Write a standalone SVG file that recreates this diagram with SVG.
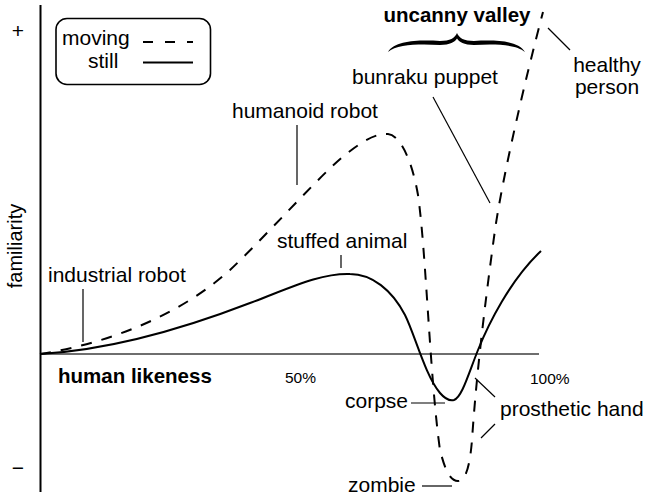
<svg xmlns="http://www.w3.org/2000/svg" width="645" height="496" viewBox="0 0 645 496">
<style>
text{font-family:"Liberation Sans",Arial,Helvetica,sans-serif;fill:#000}
.l{font-size:21px}
.b{font-size:20.5px;font-weight:bold}
.s{font-size:15.5px}
.lead{stroke:#000;stroke-width:1.2;fill:none}
.moving{stroke:#000;stroke-width:2;fill:none;stroke-dasharray:11,10}
.still{stroke:#000;stroke-width:2;fill:none}
</style>
<rect width="645" height="496" fill="#fff"/>
<g id="axes">
<line x1="40" y1="354" x2="539" y2="354" stroke="#6e6e6e" stroke-width="2"/>
<line x1="40.5" y1="5" x2="40.5" y2="492" stroke="#000" stroke-width="2"/>
<text class="l" x="18" y="38" text-anchor="middle">+</text>
<text class="l" x="18" y="475" text-anchor="middle">−</text>
<text x="22" y="246" font-size="20" text-anchor="middle" transform="rotate(-90 22 246)">familiarity</text>
<text class="b" x="58" y="383" font-size="21">human likeness</text>
<text class="s" x="285" y="383">50%</text>
<text class="s" x="530" y="384">100%</text>
</g>
<g id="legend">
<rect x="56" y="18.5" width="154.5" height="66" rx="11" fill="#fff" stroke="#000" stroke-width="1.6"/>
<text class="l" x="62" y="45">moving</text>
<line x1="143" y1="42" x2="193" y2="42" stroke="#000" stroke-width="2" stroke-dasharray="10,12"/>
<text class="l" x="88" y="68">still</text>
<line x1="143" y1="62.5" x2="193" y2="62.5" class="still"/>
</g>
<g id="connectors">
<path id="moving-curve" class="moving" d="M40,354 C110,343 180,315 230,270 C270,232 320,175 345,155 C360,143 375,133 388,134 C400,135 412,160 418,195 C426,250 430,380 440,450 C445,470 450,481 458,481 C466,481 470,465 472,440 C476,380 484,310 495,230 C502,180 525,80 543,12"/>
<path id="still-curve" class="still" d="M40,354 C110,350 180,330 250,303 C290,288 320,273 350,274 C372,274 392,290 405,315 C415,335 425,375 440,393 C446,400 450,401 454,400 C462,397 468,375 478,350 C488,325 510,280 541,251"/>
<line class="lead" x1="297" y1="125" x2="297" y2="185"/>
<line class="lead" x1="83" y1="289" x2="83" y2="342"/>
<line class="lead" x1="341" y1="255" x2="341" y2="268"/>
<line class="lead" x1="433" y1="97" x2="490" y2="203"/>
<line class="lead" x1="548" y1="28" x2="570" y2="50"/>
<line class="lead" x1="411" y1="403" x2="445" y2="403"/>
<line class="lead" x1="475" y1="378" x2="495" y2="397"/>
<line class="lead" x1="495" y1="424" x2="481" y2="438"/>
<line class="lead" x1="422" y1="486" x2="452" y2="486"/>
</g>
<g id="uncanny-valley">
<text class="b" x="457" y="22" font-size="20" text-anchor="middle">uncanny valley</text>
<path d="M388,52 C395,40 420,40 440,41 C450,41 455,38 457,33 C459,38 464,41 474,41 C494,40 518,40 525,52 C516,44 494,44 474,45 C464,45 459,42 457,38.5 C455,42 450,45 440,45 C420,44 397,44 388,52 Z" fill="#000"/>
</g>
<g id="industrial-robot"><text class="l" x="48" y="282">industrial robot</text></g>
<g id="humanoid-robot"><text class="l" x="232" y="118">humanoid robot</text></g>
<g id="stuffed-animal"><text class="l" x="277" y="248">stuffed animal</text></g>
<g id="bunraku-puppet"><text class="l" x="352" y="84">bunraku puppet</text></g>
<g id="healthy-person"><text class="l" x="607" y="72" text-anchor="middle">healthy</text><text class="l" x="607" y="94" text-anchor="middle">person</text></g>
<g id="corpse"><text class="l" x="345" y="408">corpse</text></g>
<g id="prosthetic-hand"><text class="l" x="500" y="416">prosthetic hand</text></g>
<g id="zombie"><text class="l" x="348" y="492">zombie</text></g>
</svg>
